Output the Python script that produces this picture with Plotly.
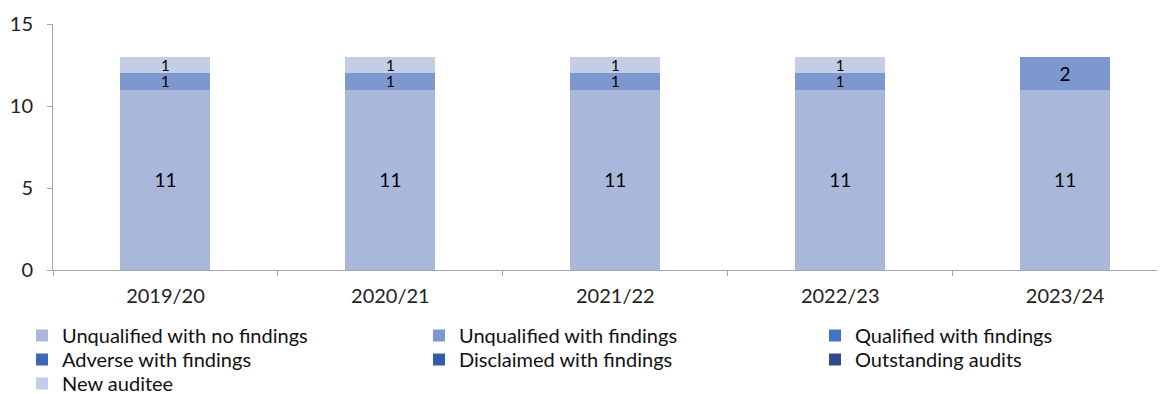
import plotly.graph_objects as go

categories = ["2019/20", "2020/21", "2021/22", "2022/23", "2023/24"]
series_names = ["Unqualified with no findings", "Unqualified with findings", "Qualified with findings",
                "Adverse with findings", "Disclaimed with findings", "Outstanding audits", "New auditee"]
unq_no_findings = [11, 11, 11, 11, 11]
unq_findings = [1, 1, 1, 1, 2]
qualified = [0, 0, 0, 0, 0]
adverse = [0, 0, 0, 0, 0]
disclaimed = [0, 0, 0, 0, 0]
outstanding = [0, 0, 0, 0, 0]
new_auditee = [1, 1, 1, 1, 0]
y_ticks = [0, 5, 10, 15]

colors = ["#A9B7DB", "#7F97CF", "#4472C4", "#3D68BA", "#345BA5", "#2E4C8A", "#C4CDE6"]
values = [unq_no_findings, unq_findings, qualified, adverse, disclaimed, outstanding, new_auditee]

# page is drawn with an 8px body margin; figure is sized to fit the window
W, H = 1165 - 8, 394 - 8
FONT = "Lato"

# legend layout: 3 columns, 3 rows (page pixel positions of text start / row centre)
col_text_x = [62, 459, 855]
row_center_y = [336, 360, 384]

fig = go.Figure()
legend_layouts = {}
for i, (name, vals, col) in enumerate(zip(series_names, values, colors)):
    r, c = divmod(i, 3)
    lname = "legend" if i == 0 else f"legend{i + 1}"
    fig.add_trace(go.Bar(
        x=categories, y=vals, name=name, marker=dict(color=col, line=dict(width=0)),
        text=[str(v) if v > 0 else "" for v in vals], textposition="inside",
        insidetextanchor="middle", textangle=0, constraintext="none",
        textfont=dict(color="black", size=[15 if v == 1 else 19 for v in vals], family=FONT),
        width=0.4, legend=lname,
    ))
    lx = (col_text_x[c] - 8 - 40) / W
    top = row_center_y[r] - 8 - 20
    ly = 1 - top / H
    legend_layouts[lname] = dict(x=lx, xref="container", xanchor="left", y=ly, yref="container",
                                 yanchor="top", font=dict(size=20, family=FONT, color="#111111"),
                                 bgcolor="rgba(0,0,0,0)", itemsizing="constant")

fig.update_layout(
    barmode="stack",
    width=W, height=H,
    margin=dict(l=45, r=0, t=16, b=124, autoexpand=False),
    paper_bgcolor="white", plot_bgcolor="white",
    font=dict(family=FONT, size=18, color="#222222"),
    showlegend=True,
    **legend_layouts,
)
fig.update_xaxes(type="category", range=[-0.5, 4.444], showline=True, linecolor="#A6A6A6", linewidth=1,
                 ticks="outside", tickson="boundaries", ticklen=5, tickcolor="#A6A6A6", automargin=False,
                 ticklabelstandoff=8,
                 showgrid=False, tickfont=dict(size=20, family=FONT, color="#222222"))
fig.update_yaxes(range=[0, 15], tickvals=y_ticks, showline=True, linecolor="#A6A6A6", linewidth=1,
                 ticks="outside", ticklen=5, tickcolor="#A6A6A6", showgrid=False, zeroline=False,
                 ticklabelstandoff=10,
                 automargin=False, tickfont=dict(size=20, family=FONT, color="#222222"))

fig.write_html("out.html")
